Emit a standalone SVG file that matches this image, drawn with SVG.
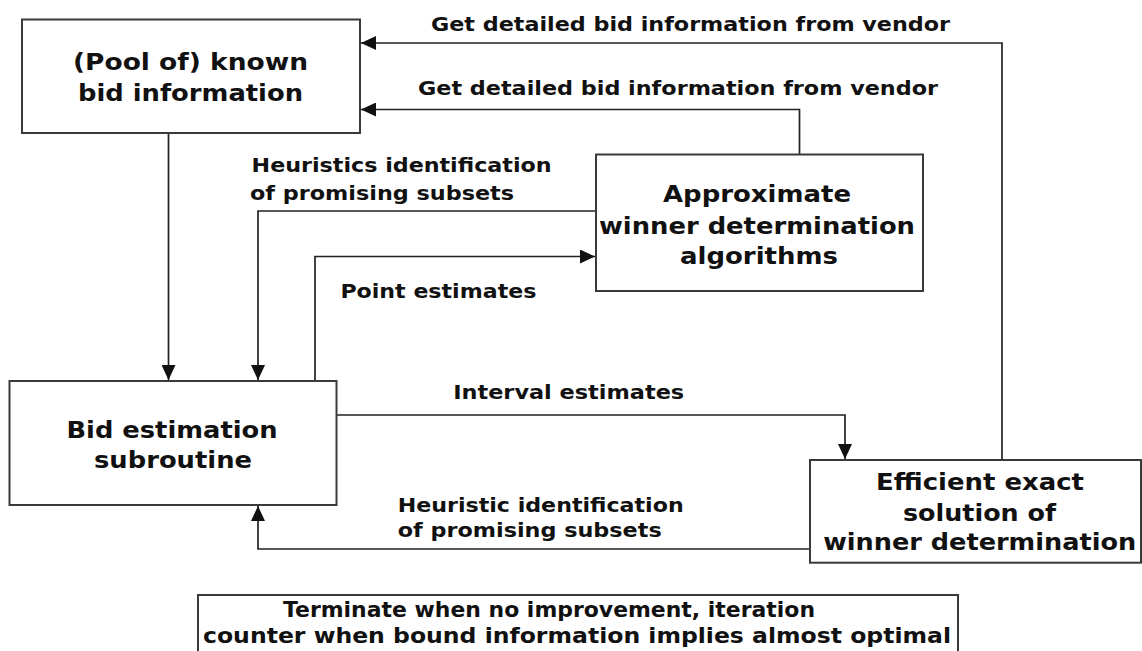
<svg xmlns="http://www.w3.org/2000/svg" width="1142" height="651" viewBox="0 0 1142 651">
<defs>
<style>
.box{fill:#fff;stroke:#3a3a3a;stroke-width:2}
.node{font-family:"DejaVu Sans","Liberation Sans",sans-serif;font-weight:bold;font-size:23px;fill:#111;text-anchor:middle}
.lbl{font-family:"DejaVu Sans","Liberation Sans",sans-serif;font-weight:bold;font-size:19.5px;fill:#111}
.bot{font-family:"DejaVu Sans","Liberation Sans",sans-serif;font-weight:bold;font-size:22px;fill:#111}
.edge{fill:none;stroke:#222;stroke-width:1.7}
</style>
<marker id="arr" markerUnits="userSpaceOnUse" markerWidth="16" markerHeight="14" refX="15" refY="7" orient="auto">
<path d="M0,0 L15,7 L0,14 Z" fill="#111"/>
</marker>
</defs>
<rect width="1142" height="651" fill="#fff"/>

<g id="connectors">
<path class="edge" d="M1002,460 V43 H361" marker-end="url(#arr)"/>
<path class="edge" d="M799.5,155 V109.5 H361" marker-end="url(#arr)"/>
<path class="edge" d="M168.5,133 V380" marker-end="url(#arr)"/>
<path class="edge" d="M596,211 H258 V380" marker-end="url(#arr)"/>
<path class="edge" d="M315,381 V256.5 H595" marker-end="url(#arr)"/>
<path class="edge" d="M337,415 H845 V459" marker-end="url(#arr)"/>
<path class="edge" d="M810,549 H258 V506" marker-end="url(#arr)"/>
<text class="lbl" x="431" y="31" textLength="519" lengthAdjust="spacingAndGlyphs">Get detailed bid information from vendor</text>
<text class="lbl" x="418" y="94.5" textLength="520" lengthAdjust="spacingAndGlyphs">Get detailed bid information from vendor</text>
<text class="lbl" x="251.6" y="172" textLength="300" lengthAdjust="spacingAndGlyphs">Heuristics identification</text>
<text class="lbl" x="250" y="200" textLength="264" lengthAdjust="spacingAndGlyphs">of promising subsets</text>
<text class="lbl" x="340.4" y="297.5" textLength="196" lengthAdjust="spacingAndGlyphs">Point estimates</text>
<text class="lbl" x="453.2" y="398.5" textLength="231" lengthAdjust="spacingAndGlyphs">Interval estimates</text>
<text class="lbl" x="397.7" y="512" textLength="286" lengthAdjust="spacingAndGlyphs">Heuristic identification</text>
<text class="lbl" x="397.7" y="537" textLength="264" lengthAdjust="spacingAndGlyphs">of promising subsets</text>
</g>

<g id="pool">
<rect class="box" x="22" y="19.5" width="338" height="113.5"/>
<text class="node" x="190.5" y="70" textLength="235" lengthAdjust="spacingAndGlyphs">(Pool of) known</text>
<text class="node" x="190.5" y="101" textLength="225" lengthAdjust="spacingAndGlyphs">bid information</text>
</g>

<g id="approx">
<rect class="box" x="596" y="154.5" width="327" height="136.5"/>
<text class="node" x="757" y="202" textLength="188" lengthAdjust="spacingAndGlyphs">Approximate</text>
<text class="node" x="757" y="233.5" textLength="316" lengthAdjust="spacingAndGlyphs">winner determination</text>
<text class="node" x="759" y="264" textLength="158" lengthAdjust="spacingAndGlyphs">algorithms</text>
</g>

<g id="bid">
<rect class="box" x="9.5" y="381" width="327" height="124"/>
<text class="node" x="172" y="437.5" textLength="211" lengthAdjust="spacingAndGlyphs">Bid estimation</text>
<text class="node" x="173" y="468" textLength="158" lengthAdjust="spacingAndGlyphs">subroutine</text>
</g>

<g id="efficient">
<rect class="box" x="810" y="460" width="331" height="102.7"/>
<text class="node" x="980" y="489.5" textLength="208" lengthAdjust="spacingAndGlyphs">Efficient exact</text>
<text class="node" x="979.5" y="521" textLength="153" lengthAdjust="spacingAndGlyphs">solution of</text>
<text class="node" x="979.7" y="549.5" textLength="313" lengthAdjust="spacingAndGlyphs">winner determination</text>
</g>

<g id="terminate">
<rect class="box" x="198" y="595" width="760" height="70"/>
<text class="bot" x="283" y="616.5" textLength="532" lengthAdjust="spacingAndGlyphs">Terminate when no improvement, iteration</text>
<text class="bot" x="203" y="643" textLength="748" lengthAdjust="spacingAndGlyphs">counter when bound information implies almost optimal</text>
</g>
</svg>
